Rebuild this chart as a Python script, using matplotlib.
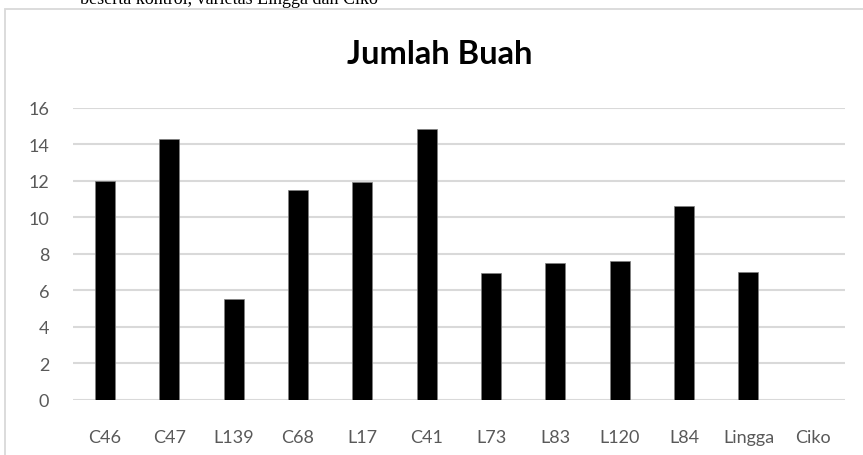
import matplotlib.pyplot as plt
from matplotlib.patches import Rectangle

# jumlah buah per galur / varietas
labels = ['C46', 'C47', 'L139', 'C68', 'L17', 'C41', 'L73', 'L83', 'L120', 'L84', 'Lingga', 'Ciko']
jumlah = [12.0, 14.3, 5.5, 11.5, 11.95, 14.85, 6.93, 7.5, 7.62, 10.6, 6.98, 0]
yticks = [0, 2, 4, 6, 8, 10, 12, 14, 16]

W, H = 863, 456
fig = plt.figure(figsize=(W / 100, H / 100), dpi=100)

# caption text cut off at top of the screenshot (as in the source)
fig.text(80 / W, 1 - 4.5 / H, 'beserta kontrol, varietas Lingga dan Ciko',
         family='Liberation Serif', fontsize=13, va='baseline', ha='left')

# chart area border (only top and left visible)
fig.add_artist(Rectangle((5 / W, -0.1), 1.2, 1 - 10 / H + 0.1, transform=fig.transFigure,
                         fill=False, edgecolor='#d9d9d9', lw=1.3))

ax = fig.add_axes([72.7 / W, 1 - 400.7 / H, (845 - 72.7) / W, (400.7 - 108.7) / H])
x = range(len(labels))
ax.bar(x, jumlah, width=0.31, color='black', edgecolor='#7f7f7f', linewidth=0.5, zorder=3)

ax.set_xlim(-0.5, len(labels) - 0.5)
ax.set_ylim(0, 16)
ax.set_yticks(yticks)
ax.set_xticks(list(x))
ax.set_xticklabels(labels)
ax.yaxis.grid(True, color='#d9d9d9', lw=1.5, zorder=0)
for s in ax.spines.values():
    s.set_visible(False)
ax.tick_params(length=0, colors='#595959', labelsize=13)
ax.tick_params(axis='y', pad=17)
ax.tick_params(axis='x', pad=21)
for t in ax.get_xticklabels() + ax.get_yticklabels():
    t.set_family('Lato')

fig.text(440 / W, 1 - 64 / H, 'Jumlah Buah', family='Lato', weight='bold',
         fontsize=23.5, ha='center', va='baseline')

fig.savefig('out.png', dpi=100)
